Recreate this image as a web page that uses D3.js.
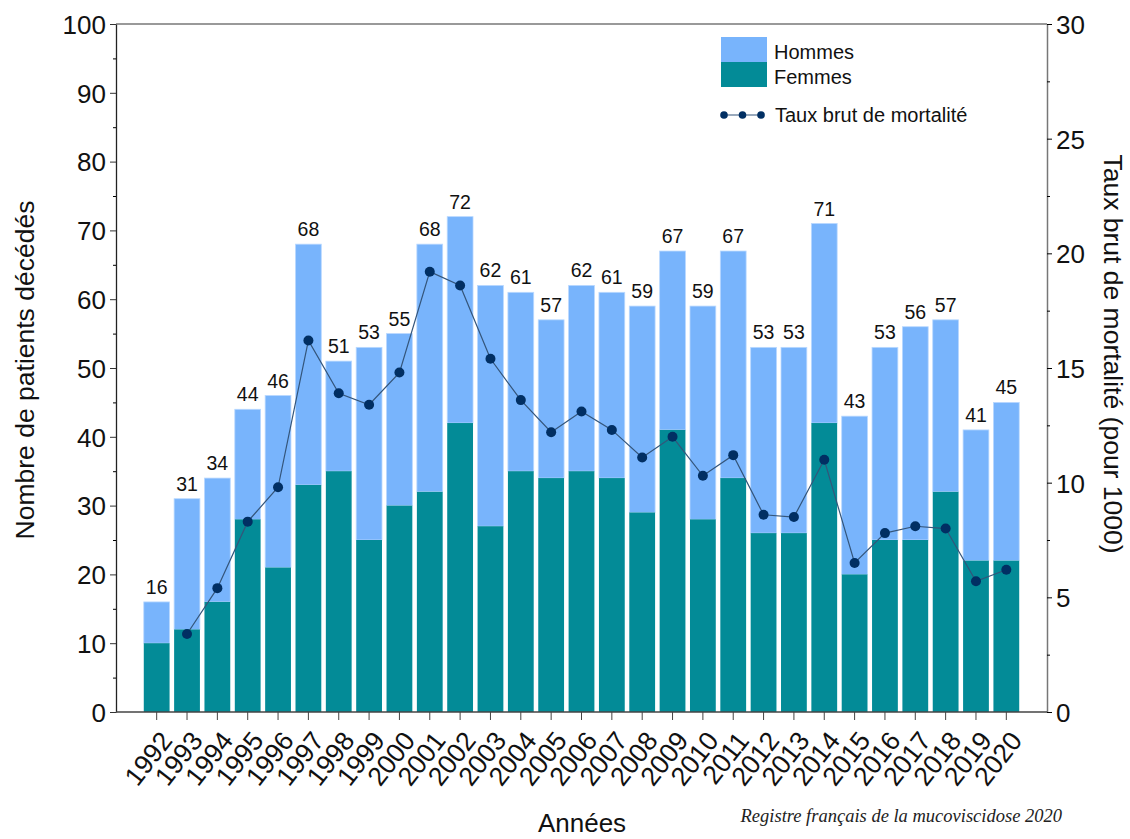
<!DOCTYPE html>
<html>
<head>
<meta charset="utf-8">
<script src="https://cdn.jsdelivr.net/npm/d3@7"></script>
<style>
  body { margin: 0; background: #fff; }
  svg text { font-family: "Liberation Sans", Arial, sans-serif; fill: #111; }
</style>
</head>
<body>
<svg id="drawspace" width="1130" height="839"></svg>
<script>
// Data
const years = ["1992","1993","1994","1995","1996","1997","1998","1999","2000","2001","2002","2003","2004","2005","2006","2007","2008","2009","2010","2011","2012","2013","2014","2015","2016","2017","2018","2019","2020"];
const totals = [16,31,34,44,46,68,51,53,55,68,72,62,61,57,62,61,59,67,59,67,53,53,71,43,53,56,57,41,45];
const femmes = [10,12,16,28,21,33,35,25,30,32,42,27,35,34,35,34,29,41,28,34,26,26,42,20,25,25,32,22,22];
// mortality rate, no value for 1992
const tauxYears = ["1993","1994","1995","1996","1997","1998","1999","2000","2001","2002","2003","2004","2005","2006","2007","2008","2009","2010","2011","2012","2013","2014","2015","2016","2017","2018","2019","2020"];
const taux = [3.4,5.4,8.3,9.8,16.2,13.9,13.4,14.8,19.2,18.6,15.4,13.6,12.2,13.1,12.3,11.1,12.0,10.3,11.2,8.6,8.5,11.0,6.5,7.8,8.1,8.0,5.7,6.2];
const leftTicks = [0,10,20,30,40,50,60,70,80,90,100];
const rightTicks = [0,5,10,15,20,25,30];

let drawSpace = d3.select("#drawspace");

const plotL = 116, plotR = 1047, plotT = 24, plotB = 712;
const colHommes = "#78b4fc", colFemmes = "#038b97", colDot = "#012f63", colLine = "#34557a";

let x = d3.scaleBand().domain(years).range([141.5, 1021.5]).paddingInner(0.15).paddingOuter(0.075);
let yL = d3.scaleLinear().domain([0, 100]).range([plotB, plotT]);
let yR = d3.scaleLinear().domain([0, 30]).range([plotB, plotT]);

// bars: hommes part on top of femmes
let rows = years.map((yr, i) => ({ year: yr, total: totals[i], femmes: femmes[i] }));

drawSpace.append("g").selectAll("rect")
  .data(rows).enter().append("rect")
  .attr("x", d => x(d.year))
  .attr("width", x.bandwidth())
  .attr("y", d => yL(d.total))
  .attr("height", d => yL(d.femmes) - yL(d.total))
  .attr("fill", colHommes)
  .attr("stroke", "#b9d8ff").attr("stroke-width", 0.8);

drawSpace.append("g").selectAll("rect")
  .data(rows).enter().append("rect")
  .attr("x", d => x(d.year))
  .attr("width", x.bandwidth())
  .attr("y", d => yL(d.femmes))
  .attr("height", d => yL(0) - yL(d.femmes))
  .attr("fill", colFemmes);

// total labels above bars
drawSpace.append("g").selectAll("text")
  .data(rows).enter().append("text")
  .attr("x", d => x(d.year) + x.bandwidth() / 2)
  .attr("y", d => yL(d.total) - 8)
  .attr("text-anchor", "middle")
  .style("font-size", "19.5px")
  .text(d => d.total);

// mortality line
let pts = tauxYears.map((yr, i) => ({ year: yr, v: taux[i] }));
let line = d3.line().x(d => x(d.year) + x.bandwidth() / 2).y(d => yR(d.v));
drawSpace.append("path")
  .datum(pts)
  .attr("d", line)
  .attr("fill", "none")
  .attr("stroke", colLine)
  .attr("stroke-width", 1.2);
drawSpace.append("g").selectAll("circle")
  .data(pts).enter().append("circle")
  .attr("cx", d => x(d.year) + x.bandwidth() / 2)
  .attr("cy", d => yR(d.v))
  .attr("r", 5)
  .attr("fill", colDot);

// frame: top line
drawSpace.append("line")
  .attr("x1", plotL).attr("x2", plotR).attr("y1", plotT).attr("y2", plotT)
  .attr("stroke", "#777").attr("stroke-width", 1.5);

// left axis
let leftAxis = drawSpace.append("g")
  .attr("transform", `translate(${plotL},0)`)
  .call(d3.axisLeft(yL).tickValues(leftTicks).tickSize(6).tickSizeOuter(0).tickPadding(4));
drawSpace.append("g")
  .attr("transform", `translate(${plotL},0)`)
  .call(d3.axisLeft(yL).tickValues(d3.range(5, 100, 10)).tickSize(3).tickFormat("").tickSizeOuter(0))
  .select(".domain").remove();
leftAxis.selectAll("text").style("font-size", "26px").attr("dy", "0.36em");
leftAxis.select(".domain").attr("stroke", "#222").attr("stroke-width", 1.3);
leftAxis.selectAll(".tick line").attr("stroke", "#333");

// right axis
let rightAxis = drawSpace.append("g")
  .attr("transform", `translate(${plotR},0)`)
  .call(d3.axisRight(yR).tickValues(rightTicks).tickSize(5).tickSizeOuter(0).tickPadding(4));
drawSpace.append("g")
  .attr("transform", `translate(${plotR},0)`)
  .call(d3.axisRight(yR).tickValues(d3.range(2.5, 30, 5)).tickSize(3).tickFormat("").tickSizeOuter(0))
  .select(".domain").remove();
rightAxis.selectAll("text").style("font-size", "26px").attr("dy", "0.36em");
rightAxis.select(".domain").attr("stroke", "#777").attr("stroke-width", 1.5);

// bottom axis
drawSpace.append("line")
  .attr("x1", plotL).attr("x2", plotR).attr("y1", plotB).attr("y2", plotB)
  .attr("stroke", "#444").attr("stroke-width", 1.5);
let bottomAxis = drawSpace.append("g")
  .attr("transform", `translate(0,${plotB})`)
  .call(d3.axisBottom(x).tickSize(8).tickSizeOuter(0));
bottomAxis.select(".domain").remove();
bottomAxis.selectAll(".tick line").attr("stroke", "#444");
bottomAxis.selectAll("text")
  .style("font-size", "26.5px")
  .attr("text-anchor", "end")
  .attr("x", 0).attr("y", 0).attr("dy", 0)
  .attr("transform", "translate(17,29) rotate(-52)");

// axis titles
drawSpace.append("text")
  .attr("transform", "translate(34,370) rotate(-90)")
  .attr("text-anchor", "middle")
  .style("font-size", "26.5px")
  .text("Nombre de patients décédés");
drawSpace.append("text")
  .attr("transform", "translate(1104,354) rotate(90)")
  .attr("text-anchor", "middle")
  .style("font-size", "26.5px")
  .text("Taux brut de mortalité (pour 1000)");
drawSpace.append("text")
  .attr("x", 582).attr("y", 832)
  .attr("text-anchor", "middle")
  .style("font-size", "26px")
  .text("Années");

// source
drawSpace.append("text")
  .attr("x", 1062).attr("y", 822)
  .attr("text-anchor", "end")
  .style("font-family", "'Liberation Serif', 'DejaVu Serif', serif")
  .style("font-style", "italic")
  .style("font-size", "18.5px")
  .style("fill", "#222")
  .text("Registre français de la mucoviscidose 2020");

// legend
let legend = drawSpace.append("g");
legend.append("rect").attr("x", 721).attr("y", 37).attr("width", 46).attr("height", 25).attr("fill", colHommes);
legend.append("rect").attr("x", 721).attr("y", 62).attr("width", 46).attr("height", 25).attr("fill", colFemmes);
legend.append("text").attr("x", 774).attr("y", 59).style("font-size", "20px").text("Hommes");
legend.append("text").attr("x", 774).attr("y", 84).style("font-size", "20px").text("Femmes");
legend.append("line").attr("x1", 724).attr("x2", 761).attr("y1", 115).attr("y2", 115)
  .attr("stroke", colLine).attr("stroke-width", 1.2);
legend.selectAll("circle").data([724, 742.5, 761]).enter().append("circle")
  .attr("cx", d => d).attr("cy", 115).attr("r", 3.8).attr("fill", colDot);
legend.append("text").attr("x", 775).attr("y", 122).style("font-size", "20px").text("Taux brut de mortalité");
</script>
</body>
</html>
